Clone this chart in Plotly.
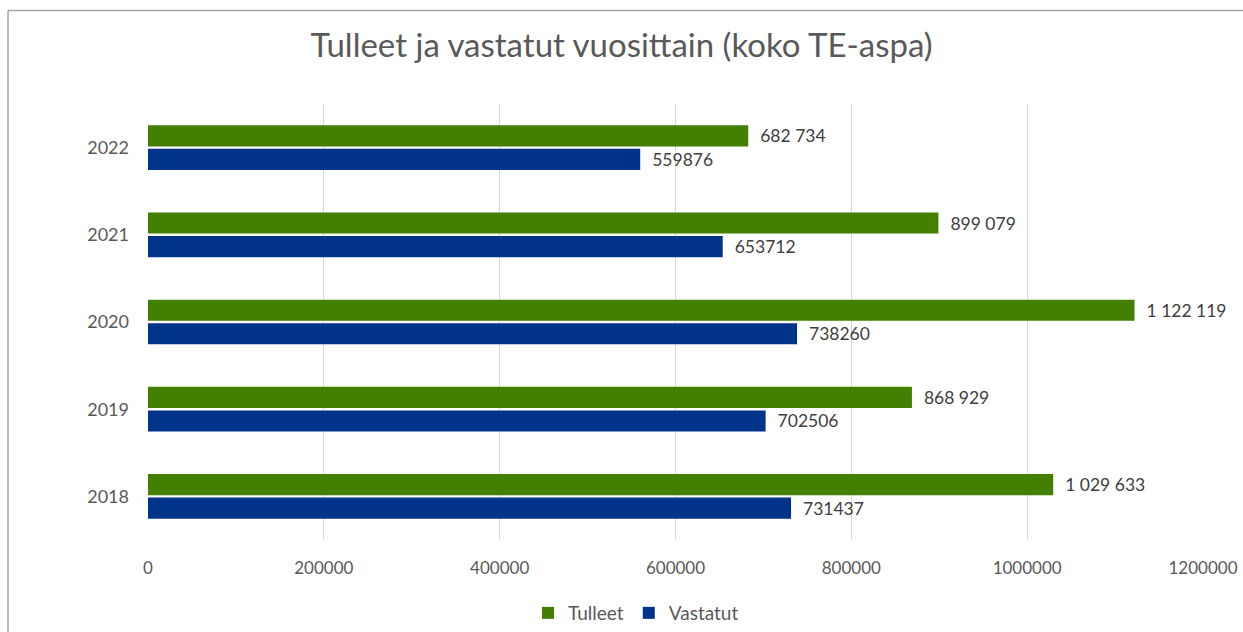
import plotly.graph_objects as go

years = ["2018", "2019", "2020", "2021", "2022"]
tulleet = [1029633, 868929, 1122119, 899079, 682734]
vastatut = [731437, 702506, 738260, 653712, 559876]
tulleet_labels = ["1 029 633", "868 929", "1 122 119", "899 079", "682 734"]
vastatut_labels = ["731437", "702506", "738260", "653712", "559876"]
x_ticks = [0, 200000, 400000, 600000, 800000, 1000000, 1200000]

GREEN = "#437F00"
BLUE = "#00338A"
FONT = "Lato, 'Open Sans', sans-serif"

fig = go.Figure()
fig.add_trace(go.Bar(
    y=years, x=vastatut, orientation="h", name="Vastatut",
    marker=dict(color=BLUE, line=dict(width=0)),
    text=["  " + t for t in vastatut_labels], textposition="outside",
    textfont=dict(size=17.5, color="#404040", family=FONT),
    cliponaxis=False, legendrank=2,
))
fig.add_trace(go.Bar(
    y=years, x=tulleet, orientation="h", name="Tulleet",
    marker=dict(color=GREEN, line=dict(width=0)),
    text=["  " + t for t in tulleet_labels], textposition="outside",
    textfont=dict(size=17.5, color="#404040", family=FONT),
    cliponaxis=False, legendrank=1,
))

L, R, T, B = 148, 40, 104, 92
W, H = 1243, 632
pw, ph = W - L - R, H - T - B

fig.update_layout(
    width=W, height=H,
    margin=dict(l=L, r=R, t=T, b=B, autoexpand=False),
    paper_bgcolor="white", plot_bgcolor="white",
    barmode="group", bargap=0.46, bargroupgap=0.1,
    font=dict(family=FONT, color="#595959"),
    title=dict(text="Tulleet ja vastatut vuosittain (koko TE-aspa)",
               x=0.5, xanchor="center", y=1 - 45 / H, yanchor="middle",
               font=dict(size=33, color="#595959", family=FONT)),
    legend=dict(orientation="h", x=(636 - L) / pw, xanchor="center",
                y=-(613 - (H - B)) / ph, yanchor="middle",
                font=dict(size=19, color="#595959", family=FONT),
                itemwidth=30, tracegroupgap=0),
    xaxis=dict(range=[0, 1200000], tickvals=x_ticks,
               ticktext=[str(v) for v in x_ticks],
               showgrid=True, gridcolor="#D9D9D9", gridwidth=1,
               zeroline=False, showline=False,
               ticks="", ticklabelstandoff=16,
               tickfont=dict(size=17, color="#595959", family=FONT)),
    yaxis=dict(categoryorder="array", categoryarray=years,
               showgrid=False, zeroline=False, showline=False,
               ticks="", ticklabelstandoff=18,
               tickfont=dict(size=18, color="#595959", family=FONT)),
    shapes=[
        dict(type="line", xref="paper", yref="paper",
             x0=(8 - L) / pw, x1=(W - L) / pw,
             y0=1 + (T - 10.5) / ph, y1=1 + (T - 10.5) / ph,
             line=dict(color="#A6A6A6", width=1.5)),
        dict(type="line", xref="paper", yref="paper",
             x0=(8 - L) / pw, x1=(8 - L) / pw,
             y0=1 + (T - 10.5) / ph, y1=-B / ph,
             line=dict(color="#A6A6A6", width=1.5)),
    ],
)

fig.write_html("out.html", config={"displayModeBar": False},
               post_script="document.body.style.margin='0';document.body.style.overflow='hidden';")
